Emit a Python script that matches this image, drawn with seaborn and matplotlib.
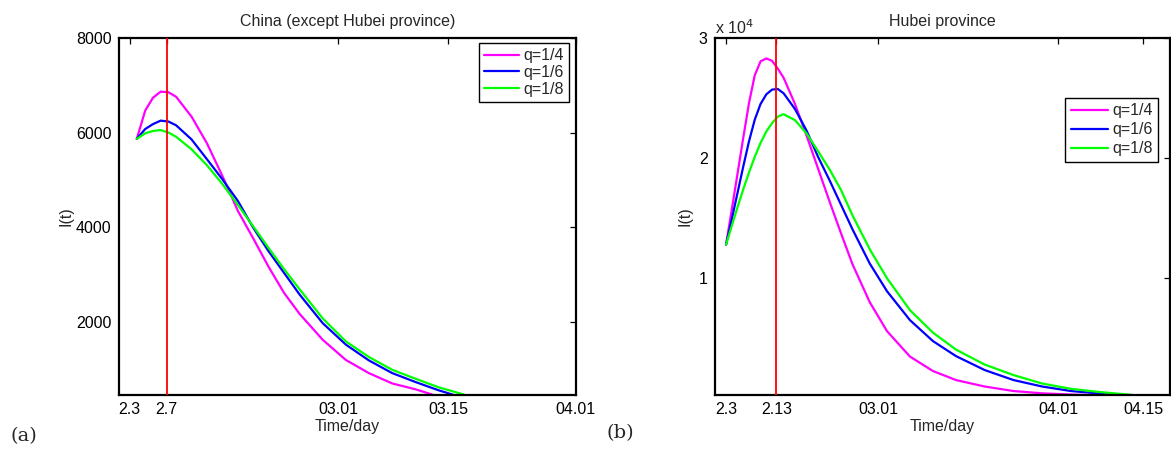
import numpy as np
import pandas as pd
import matplotlib.pyplot as plt
import seaborn as sns

sns.set_style('white')
plt.rcParams['font.family'] = ['Liberation Sans', 'DejaVu Sans']
plt.rcParams['font.size'] = 11.5

# ---- data: (a) China except Hubei, days after Feb 3 ----
labels = ['q=1/4', 'q=1/6', 'q=1/8']
colors = ['#FF00FF', '#0000FF', '#00FF00']

t_a_q4 = [0.9, 2, 3, 4, 5, 6, 8, 10, 12, 14, 16, 18, 20, 22, 25, 28, 31, 34, 37, 39.2]
i_a_q4 = [5867, 6467, 6737, 6866, 6853, 6758, 6338, 5772, 5083, 4346, 3761, 3157,
          2608, 2167, 1618, 1191, 912, 695, 572, 460]
t_a_q6 = [0.9, 2, 3, 4, 5, 6, 8, 10, 12, 14, 16, 18, 20, 22, 25, 28, 31, 34, 37, 40, 41.9]
i_a_q6 = [5867, 6076, 6179, 6253, 6234, 6154, 5856, 5436, 5012, 4555, 3987, 3487,
          3031, 2576, 1970, 1516, 1180, 914, 726, 551, 456]
t_a_q8 = [0.9, 2, 3, 4, 5, 6, 8, 10, 12, 14, 16, 18, 20, 22, 25, 28, 31, 34, 37, 40, 43.3]
i_a_q8 = [5867, 5985, 6034, 6053, 6002, 5911, 5647, 5309, 4912, 4471, 4015, 3556,
          3111, 2688, 2070, 1584, 1252, 984, 796, 614, 460]

xticks_a = [0, 4.78, 27, 41.3, 57.8]
xticklabels_a = ['2.3', '2.7', '03.01', '03.15', '04.01']
yticks_a = [2000, 4000, 6000, 8000]
peak_a = 4.78

# ---- data: (b) Hubei province ----
t_b_q4 = [0, 1, 2, 3, 4, 5, 6, 7, 8, 9, 10, 12, 14, 16, 18, 20, 22, 25, 28, 32, 36,
          40, 45, 50, 55, 60, 62.7]
i_b_q4 = [12778, 15700, 18700, 21700, 24600, 26900, 28050, 28300, 28100, 27450, 26700,
          24492, 21871, 19126, 16380, 13718, 11139, 7977, 5564, 3443, 2236, 1487, 947,
          572, 381, 281, 245]
t_b_q6 = [0, 1, 2, 3, 4, 5, 6, 7, 8, 9, 10, 12, 14, 16, 18, 20, 22, 25, 28, 32, 36,
          40, 45, 50, 55, 60, 65, 66.8]
i_b_q6 = [12778, 14900, 17100, 19300, 21400, 23200, 24500, 25300, 25700, 25750, 25400,
          24076, 22287, 20100, 18150, 16100, 14050, 11200, 8892, 6479, 4732, 3484, 2319,
          1487, 947, 572, 360, 250]
t_b_q8 = [0, 1, 2, 3, 4, 5, 6, 7, 8, 9, 10, 12, 14, 16, 18, 20, 22, 25, 28, 32, 36,
          40, 45, 50, 55, 60, 65, 70.7]
i_b_q8 = [12778, 14350, 15900, 17400, 18800, 20100, 21250, 22200, 22900, 23450, 23650,
          23150, 22050, 20565, 19051, 17328, 15215, 12387, 9974, 7311, 5439, 4025, 2777,
          1903, 1196, 755, 489, 245]

xticks_b = [0, 8.77, 26.5, 57.8, 72.6]
xticklabels_b = ['2.3', '2.13', '03.01', '04.01', '04.15']
yticks_b = [10000, 20000, 30000]
yticklabels_b = ['1', '2', '3']
peak_b = 8.77

FS = 11.5


def draw_panel(ax, series, peak, title):
    for (t, v), lab, col in zip(series, labels, colors):
        df = pd.DataFrame({'t': t, 'I': v})
        sns.lineplot(data=df, x='t', y='I', color=col, lw=1.6, label=lab,
                     estimator=None, sort=False, ax=ax)
    ax.axvline(peak, color='#FF0000', lw=1.3, zorder=5)
    ax.set_title(title, fontsize=FS, pad=9)
    ax.set_xlabel('Time/day', fontsize=FS)
    ax.set_ylabel('I(t)', fontsize=FS)
    ax.tick_params(direction='in', length=4, width=0.9, top=True, right=True,
                   labelsize=FS, pad=5, colors='black')
    for s in ax.spines.values():
        s.set_linewidth(1.6)
        s.set_color('black')
        s.set_visible(True)
    ax.xaxis.set_label_coords(0.5, -0.066)


fig = plt.figure(figsize=(11.71, 4.5), dpi=100)
ax1 = fig.add_axes([0.1013, 0.1222, 0.3904, 0.7933])
ax2 = fig.add_axes([0.6102, 0.1222, 0.3888, 0.7933])

draw_panel(ax1, [(t_a_q4, i_a_q4), (t_a_q6, i_a_q6), (t_a_q8, i_a_q8)], peak_a,
           'China (except Hubei province)')
ax1.set_xlim(-1.45, 57.8)
ax1.set_ylim(450, 8000)
ax1.set_xticks(xticks_a, xticklabels_a)
ax1.set_yticks(yticks_a, [str(v) for v in yticks_a])
ax1.yaxis.set_label_coords(-0.098, 0.5)
leg1 = ax1.legend(loc='upper right', bbox_to_anchor=(0.985, 0.985), fancybox=False,
                  edgecolor='black', framealpha=1, fontsize=FS, handlelength=2.2,
                  handletextpad=0.3, labelspacing=0.12, borderpad=0.3, borderaxespad=0)
leg1.get_frame().set_linewidth(1.0)

draw_panel(ax2, [(t_b_q4, i_b_q4), (t_b_q6, i_b_q6), (t_b_q8, i_b_q8)], peak_b,
           'Hubei province')
ax2.set_xlim(-2.0, 77.2)
ax2.set_ylim(240, 30000)
ax2.set_xticks(xticks_b, xticklabels_b)
ax2.set_yticks(yticks_b, yticklabels_b)
ax2.yaxis.set_label_coords(-0.048, 0.5)
ax2.text(0.0, 1.004, r'x 10$^{4}$', transform=ax2.transAxes, ha='left', va='bottom',
         fontsize=FS)
leg2 = ax2.legend(loc='upper right', bbox_to_anchor=(0.975, 0.833), fancybox=False,
                  edgecolor='black', framealpha=1, fontsize=FS, handlelength=2.3,
                  handletextpad=0.3, labelspacing=0.25, borderpad=0.35, borderaxespad=0)
leg2.get_frame().set_linewidth(1.0)

fig.text(0.0205, 0.03, '(a)', family='DejaVu Serif', fontsize=14, ha='center', va='center')
fig.text(0.530, 0.038, '(b)', family='DejaVu Serif', fontsize=14, ha='center', va='center')

fig.savefig('out.png', dpi=100, facecolor='white')
